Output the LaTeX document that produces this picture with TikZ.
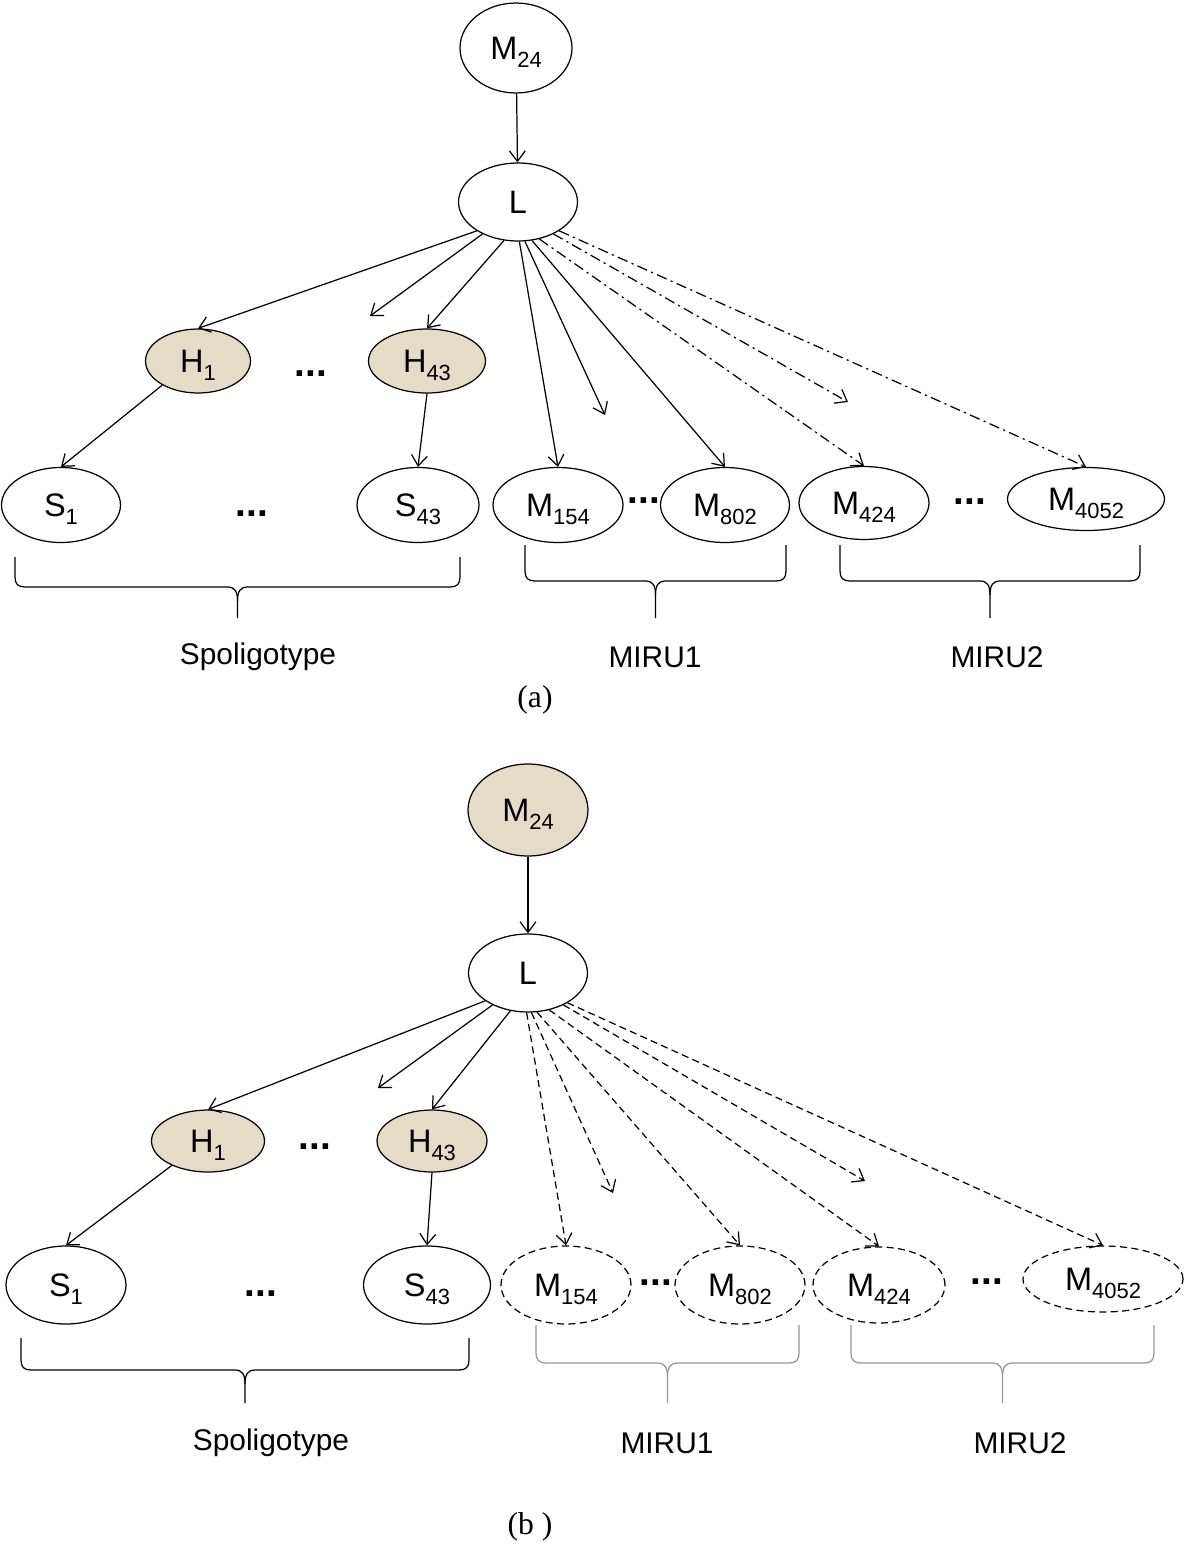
\documentclass[tikz,border=0pt]{standalone}
\usepackage{fontspec}
\setmainfont{Liberation Sans}
\newfontfamily\capfont{Liberation Serif}
\usepackage{tikz}
\usetikzlibrary{shapes.geometric, arrows.meta}
\definecolor{obsfill}{RGB}{229,220,200}
\definecolor{bracegray}{RGB}{150,150,150}
\newcommand{\ix}[1]{\raisebox{-4.5pt}[0pt][0pt]{\fontsize{12.5}{14}\selectfont #1}}
% grouping brace: [colour]{x left}{x right}{y top}{y bar}{y tip}
\newcommand{\groupbrace}[6][black]{%
  \draw[#1, line width=0.7pt]
    (#2,#4) -- (#2,{#5-10}) .. controls (#2,{#5-3}) and ({#2+3},#5) .. ({#2+10},#5)
    -- ({(#2+#3)/2-10},#5) .. controls ({(#2+#3)/2-3},#5) and ({(#2+#3)/2},{#5+4}) .. ({(#2+#3)/2},{#5+14})
    -- ({(#2+#3)/2},#6);
  \draw[#1, line width=0.7pt]
    (#3,#4) -- (#3,{#5-10}) .. controls (#3,{#5-3}) and ({#3-3},#5) .. ({#3-10},#5)
    -- ({(#2+#3)/2+10},#5) .. controls ({(#2+#3)/2+3},#5) and ({(#2+#3)/2},{#5+4}) .. ({(#2+#3)/2},{#5+14});
}
\tikzset{
    >={Straight Barb[length=6pt,width=9pt]},     % open arrow heads
    var/.style={ellipse, draw, line width=0.7pt, inner sep=0pt, font=\fontsize{18.5}{21}\selectfont},
    obs/.style={var, fill=obsfill},              % shaded variables
    latent/.style={var, dash pattern=on 4pt off 2.5pt},
    link/.style={->, line width=0.7pt},
    linkdd/.style={link, dash pattern=on 6pt off 2.5pt on 1.2pt off 2.5pt},
    linkd/.style={link, dash pattern=on 4pt off 2.5pt},
    dots/.style={inner sep=0pt, font=\fontsize{22}{24}\selectfont\bfseries},
    grouptext/.style={inner sep=0pt, font=\fontsize{17}{20}\selectfont},
    captext/.style={inner sep=0pt, font=\capfont\fontsize{18}{21}\selectfont}
}

\begin{document}
\begin{tikzpicture}[x=0.02cm, y=-0.02cm]
    \useasboundingbox (0,0) rectangle (1200,1559);

    % Define nodes (a)
    \node[var, minimum width=2.24cm, minimum height=1.8cm] (Ma) at (516,48) {M\ix{24}};
    \node[var, minimum width=2.38cm, minimum height=1.56cm] (La) at (518,202) {L};
    \node[obs, minimum width=2.1cm, minimum height=1.28cm] (H1a) at (198,361) {H\ix{1}};
    \node[obs, minimum width=2.34cm, minimum height=1.28cm] (H43a) at (427,361) {H\ix{43}};
    \node[var, minimum width=2.38cm, minimum height=1.5cm] (S1a) at (61,505) {S\ix{1}};
    \node[var, minimum width=2.44cm, minimum height=1.5cm] (S43a) at (418,505) {S\ix{43}};
    \node[var, minimum width=2.6cm, minimum height=1.5cm] (M154a) at (558,505) {M\ix{154}};
    \node[var, minimum width=2.58cm, minimum height=1.5cm] (M802a) at (725,505) {M\ix{802}};
    \node[var, minimum width=2.6cm, minimum height=1.46cm] (M424a) at (864,503) {M\ix{424}};
    \node[var, minimum width=3.14cm, minimum height=1.26cm] (M4052a) at (1086,499) {M\ix{4052}};
    \node[dots] (dHa) at (311,374) {...};
    \node[dots] (dSa) at (252,514) {...};
    \node[dots] (dM1a) at (644,501) {...};
    \node[dots] (dM2a) at (970,502) {...};
    \coordinate (fa1) at (370,316);
    \coordinate (fa2) at (605,415);
    \coordinate (fa3) at (848,402);

    % Draw edges (a)
    \draw   (Ma) edge[link] (La)
            (La.215) edge[link] (H1a.north)
            (La.222) edge[link] (fa1)
            (La.250) edge[link] (H43a.north)
            (La.272) edge[link] (M154a.north)
            (La.280) edge[link] (fa2)
            (La.290) edge[link] (M802a.north)
            (La.300) edge[linkdd] (M424a.north)
            (La.318) edge[linkdd] (fa3)
            (La.325) edge[linkdd] (M4052a.north)
            (H1a.214) edge[link] (S1a.north)
            (H43a.south) edge[link] (S43a.north);

    % Groups (a)
    \groupbrace{15}{460}{557}{587}{618}
    \groupbrace{525}{786}{545}{581}{618}
    \groupbrace{840}{1140}{545}{581}{618}
    \node[grouptext] (ga1) at (258,657) {Spoligotype};
    \node[grouptext] (ga2) at (655,657) {MIRU1};
    \node[grouptext] (ga3) at (997,657) {MIRU2};
    \node[captext] (capa) at (535,700) {(a)};

    % Define nodes (b)
    \node[obs, minimum width=2.4cm, minimum height=1.84cm] (Mb) at (528,810) {M\ix{24}};
    \node[var, minimum width=2.38cm, minimum height=1.56cm] (Lb) at (528,973) {L};
    \node[obs, minimum width=2.26cm, minimum height=1.24cm] (H1b) at (208,1141) {H\ix{1}};
    \node[obs, minimum width=2.2cm, minimum height=1.24cm] (H43b) at (432,1141) {H\ix{43}};
    \node[var, minimum width=2.4cm, minimum height=1.56cm] (S1b) at (66,1285) {S\ix{1}};
    \node[var, minimum width=2.54cm, minimum height=1.56cm] (S43b) at (427,1285) {S\ix{43}};
    \node[latent, minimum width=2.6cm, minimum height=1.56cm] (M154b) at (566,1285) {M\ix{154}};
    \node[latent, minimum width=2.6cm, minimum height=1.56cm] (M802b) at (740,1285) {M\ix{802}};
    \node[latent, minimum width=2.64cm, minimum height=1.52cm] (M424b) at (879,1285) {M\ix{424}};
    \node[latent, minimum width=3.2cm, minimum height=1.32cm] (M4052b) at (1103,1279) {M\ix{4052}};
    \node[dots] (dHb) at (315,1147) {...};
    \node[dots] (dSb) at (261,1294) {...};
    \node[dots] (dM1b) at (656,1283) {...};
    \node[dots] (dM2b) at (987,1282) {...};
    \coordinate (fb1) at (378,1088);
    \coordinate (fb2) at (613,1193);
    \coordinate (fb3) at (865,1181);

    % Draw edges (b)
    \draw   (Mb) edge[link] (Lb)
            (Lb.213) edge[link] (H1b.north)
            (Lb.222) edge[link] (fb1)
            (Lb.245) edge[link] (H43b.north)
            (Lb.268) edge[linkd] (M154b.north)
            (Lb.275) edge[linkd] (fb2)
            (Lb.283) edge[linkd] (M802b.north)
            (Lb.300) edge[linkd] (M424b.north)
            (Lb.318) edge[linkd] (fb3)
            (Lb.323) edge[linkd] (M4052b.north)
            (H1b.214) edge[link] (S1b.north)
            (H43b.south) edge[link] (S43b.north);

    % Groups (b)
    \groupbrace{21}{469}{1338}{1370}{1403}
    \groupbrace[bracegray]{536}{799}{1325}{1363}{1403}
    \groupbrace[bracegray]{851}{1154}{1325}{1363}{1403}
    \node[grouptext] (gb1) at (271,1443) {Spoligotype};
    \node[grouptext] (gb2) at (667,1443) {MIRU1};
    \node[grouptext] (gb3) at (1020,1443) {MIRU2};
    \node[captext] (capb) at (530,1527) {(b )};
\end{tikzpicture}
\end{document}
